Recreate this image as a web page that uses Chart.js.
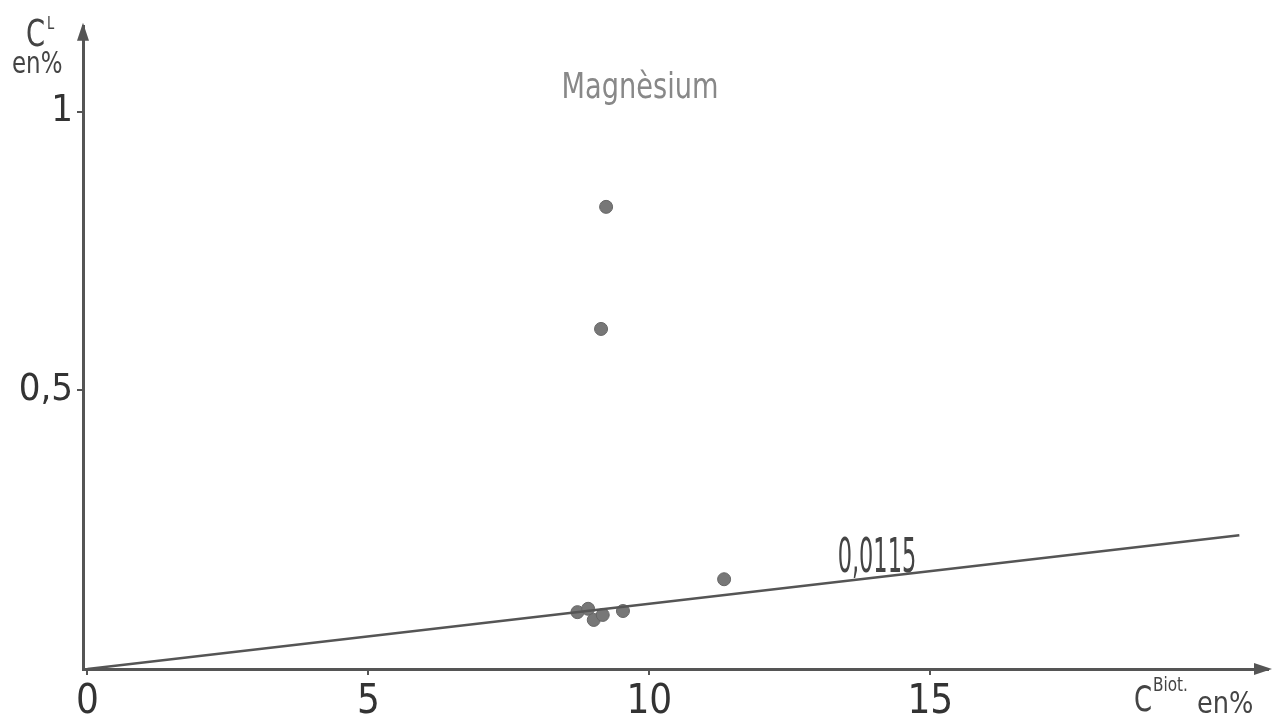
<!DOCTYPE html>
<html>
<head>
<meta charset="utf-8">
<script src="https://cdn.jsdelivr.net/npm/chart.js@4"></script>
<style>
	body { margin: 0; background: #fff; }
	#wrap { width: 1277px; height: 719px; position: relative; }
</style>
</head>
<body>
<div id="wrap"><canvas id="chart"></canvas></div>
<script>
// Mg: biotite concentration vs liquid concentration (en %)
const xBiot = [9.23, 9.14, 8.72, 8.91, 9.01, 9.17, 9.53, 11.33];
const yLiq = [0.829, 0.61, 0.102, 0.108, 0.088, 0.097, 0.104, 0.161];
const lineX = [0, 20.5];
const lineY = [0, 0.24];
const lineLabel = "0,0115";
const lineLabelAt = [14.05, 0.174];
const xTicks = [0, 5, 10, 15];
const yTicks = [0.5, 1];
const title = "Magnèsium";

const FONT = "'DejaVu Sans Condensed', 'Liberation Sans Narrow', sans-serif";
const INK = "#555";

const points = xBiot.map((x, i) => ({ x: x, y: yLiq[i] }));
const fitLine = lineX.map((x, i) => ({ x: x, y: lineY[i] }));

// narrow text like the stencil lettering of the original
function narrowText(ctx, str, x, y, size, align, sx) {
	ctx.save();
	ctx.font = size + "px " + FONT;
	ctx.textAlign = align;
	ctx.translate(x, y);
	ctx.scale(sx, 1);
	ctx.fillText(str, 0, 0);
	ctx.restore();
}

const decor = {
	id: "decor",
	afterDraw(chart) {
		const ctx = chart.ctx;
		const a = chart.chartArea;
		const xs = chart.scales.x;
		const ys = chart.scales.y;
		ctx.save();
		// arrow heads
		ctx.fillStyle = INK;
		ctx.beginPath();
		ctx.moveTo(a.left, a.top - 4);
		ctx.lineTo(a.left - 6, a.top + 14);
		ctx.lineTo(a.left + 6, a.top + 14);
		ctx.closePath();
		ctx.fill();
		ctx.beginPath();
		ctx.moveTo(a.right + 4, a.bottom);
		ctx.lineTo(a.right - 14, a.bottom - 6);
		ctx.lineTo(a.right - 14, a.bottom + 6);
		ctx.closePath();
		ctx.fill();

		ctx.fillStyle = "#444";
		ctx.textBaseline = "alphabetic";
		// y axis label
		narrowText(ctx, "C", 26, 46, 38, "left", 0.8);
		narrowText(ctx, "L", 47, 29, 18, "left", 0.8);
		narrowText(ctx, "en%", 12, 73, 30, "left", 0.85);
		// x axis label
		narrowText(ctx, "C", 1134, 711, 36, "left", 0.8);
		narrowText(ctx, "Biot.", 1153, 691, 20, "left", 0.85);
		narrowText(ctx, "en%", 1197, 713, 30, "left", 0.95);

		// slope label
		narrowText(ctx, lineLabel, xs.getPixelForValue(lineLabelAt[0]), ys.getPixelForValue(lineLabelAt[1]), 48, "center", 0.52);

		// title
		ctx.fillStyle = "#888";
		narrowText(ctx, title, 640, 98, 36, "center", 0.84);
		ctx.restore();
	}
};

new Chart(document.getElementById("chart"), {
	type: "scatter",
	data: {
		datasets: [
			{
				type: "line",
				data: fitLine,
				borderColor: INK,
				borderWidth: 2.5,
				pointRadius: 0,
				fill: false,
			},
			{
				data: points,
				backgroundColor: "#777",
				borderColor: "#666",
				borderWidth: 1,
				pointRadius: 6.5,
			},
		],
	},
	options: {
		responsive: true,
		maintainAspectRatio: false,
		animation: false,
		layout: { padding: { top: 17, right: 9, left: 0, bottom: 0 } },
		plugins: { legend: { display: false }, tooltip: { enabled: false } },
		scales: {
			x: {
				type: "linear",
				min: -0.08,
				max: 21.01,
				afterBuildTicks: (s) => { s.ticks = xTicks.map((v) => ({ value: v })); },
				afterFit: (s) => { s.height = 50; },
				ticks: {
					color: "#333",
					padding: 4,
					font: { family: FONT, size: 40 },
					callback: (v) => String(v),
				},
				grid: { drawOnChartArea: false, tickLength: 6, color: INK, lineWidth: 2 },
				border: { display: true, color: INK, width: 3 },
			},
			y: {
				type: "linear",
				min: 0,
				max: 1.152,
				afterBuildTicks: (s) => { s.ticks = yTicks.map((v) => ({ value: v })); },
				afterFit: (s) => { s.width = 83; },
				ticks: {
					color: "#333",
					padding: 4,
					font: { family: FONT, size: 38 },
					callback: (v) => String(v).replace(".", ","),
				},
				grid: { drawOnChartArea: false, tickLength: 6, color: INK, lineWidth: 2 },
				border: { display: true, color: INK, width: 3 },
			},
		},
	},
	plugins: [decor],
});
</script>
</body>
</html>
